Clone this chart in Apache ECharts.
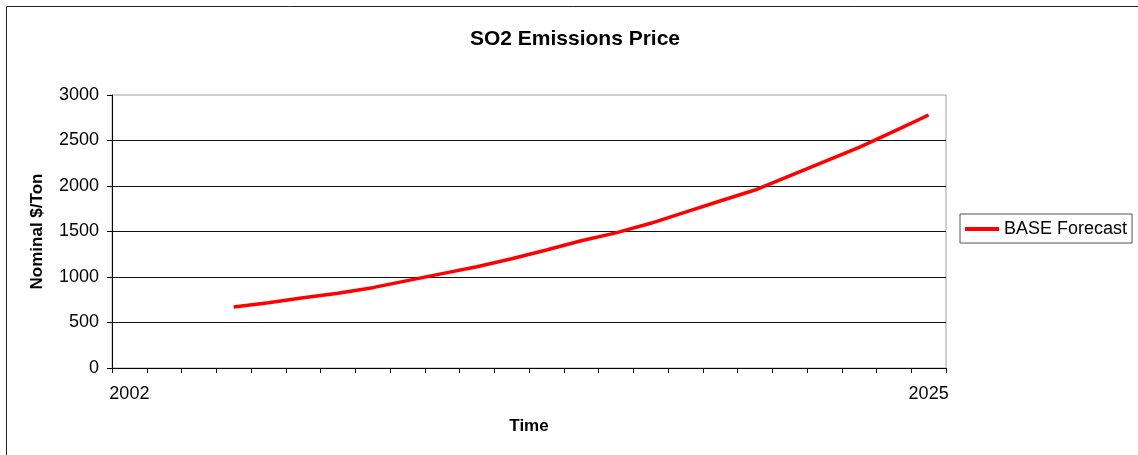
<!DOCTYPE html>
<html>
<head>
<meta charset="utf-8">
<style>
  html, body { margin: 0; padding: 0; background: #fff; }
  #chart { width: 1138px; height: 455px; }
</style>
<script src="https://cdn.jsdelivr.net/npm/echarts@6/dist/echarts.min.js"></script>
</head>
<body>
<div id="chart"></div>
<script>
// Category years on the time axis (first and last are labelled)
const categories = [];
for (let y = 2002; y <= 2025; y++) categories.push(String(y));

// BASE Forecast, nominal $/ton, 2005-2025
const forecastYears = ['2005','2006','2007','2008','2009','2010','2011','2012','2013','2014',
  '2015','2016','2017','2018','2019','2020','2021','2022','2023','2024','2025'];
const forecastValues = [670, 718, 773, 822, 883, 960, 1037, 1113, 1201, 1297,
  1399, 1485, 1590, 1712, 1835, 1956, 2110, 2267, 2425, 2600, 2780];

const yTicks = { min: 0, max: 3000, interval: 500 };

const seriesData = categories.map(c => {
  const i = forecastYears.indexOf(c);
  return i >= 0 ? forecastValues[i] : null;
});

const FONT = '"Liberation Sans", Arial, sans-serif';
const chart = echarts.init(document.getElementById('chart'), null, { renderer: 'canvas' });

chart.setOption({
  animation: false,
  backgroundColor: '#fff',
  textStyle: { fontFamily: FONT },
  graphic: [{
    type: 'rect',
    shape: { x: 6.5, y: 6.5, width: 1200, height: 500 },
    style: { fill: 'none', stroke: '#222', lineWidth: 1 },
    silent: true
  }],
  title: {
    text: 'SO2 Emissions Price',
    left: 570, top: 24, textAlign: 'center',
    textStyle: { fontFamily: FONT, fontSize: 21, fontWeight: 'bold', color: '#000' }
  },
  legend: {
    left: 960, top: 214,
    orient: 'vertical',
    padding: [6, 5, 5, 5],
    borderColor: '#555', borderWidth: 1,
    itemWidth: 34, itemHeight: 4, itemGap: 0,
    icon: 'rect',
    textStyle: { fontFamily: FONT, fontSize: 18, color: '#000', padding: [0, 0, 0, 0] },
    data: ['BASE Forecast']
  },
  grid: {
    left: 112, right: 1138 - 946, top: 95, bottom: 455 - 368,
    show: true, borderColor: '#a0a0a0', borderWidth: 1, backgroundColor: 'transparent'
  },
  xAxis: {
    type: 'category',
    data: categories,
    boundaryGap: true,
    name: 'Time',
    nameLocation: 'middle',
    nameGap: 50,
    nameTextStyle: { fontFamily: FONT, fontSize: 17, fontWeight: 'bold', color: '#000' },
    axisLine: { lineStyle: { color: '#000', width: 1 } },
    axisTick: { show: true, interval: 0, length: 5, lineStyle: { color: '#000' } },
    axisLabel: {
      interval: 0, margin: 17,
      fontFamily: FONT, fontSize: 18, color: '#000',
      formatter: (v, i) => (i === 0 || i === categories.length - 1) ? v : ''
    },
    splitLine: { show: false }
  },
  yAxis: {
    type: 'value',
    min: yTicks.min, max: yTicks.max, interval: yTicks.interval,
    name: 'Nominal $/Ton',
    nameLocation: 'middle',
    nameGap: 66,
    nameTextStyle: { fontFamily: FONT, fontSize: 17, fontWeight: 'bold', color: '#000' },
    axisLine: { show: true, lineStyle: { color: '#000', width: 1 } },
    axisTick: { show: true, length: 5, lineStyle: { color: '#000' } },
    axisLabel: {
      margin: 13, fontFamily: FONT, fontSize: 18, color: '#000',
      formatter: v => String(v)
    },
    splitLine: { show: true, showMinLine: false, showMaxLine: false, lineStyle: { color: '#111', width: 1 } }
  },
  series: [{
    name: 'BASE Forecast',
    type: 'line',
    data: seriesData,
    connectNulls: false,
    showSymbol: false,
    symbol: 'none',
    lineStyle: { color: '#ff0000', width: 3.5 },
    itemStyle: { color: '#ff0000' }
  }]
});
</script>
</body>
</html>
